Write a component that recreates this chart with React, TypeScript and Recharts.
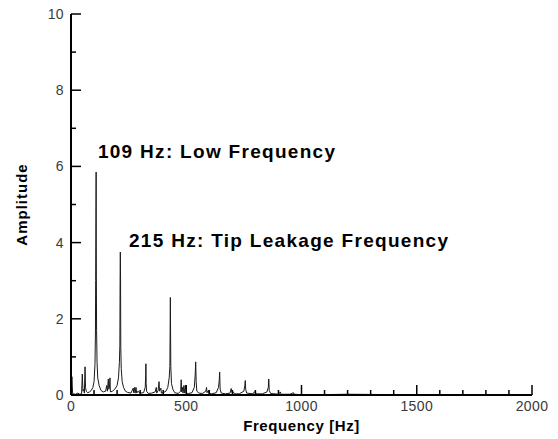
import { LineChart, Line, XAxis, YAxis, ReferenceDot } from 'recharts';

// spectrum, frequency [Hz] -> amplitude
const freqs = [
  0, 4, 7, 20, 30, 38, 46, 49, 52, 56, 58, 61, 63, 66, 72, 80, 88, 95, 100, 104,
  106, 107, 108, 109, 110, 111, 113, 116, 122, 130, 140, 150, 155, 158, 162, 164, 167, 169, 171, 180,
  190, 200, 206, 210, 212, 213, 214, 215, 216, 218, 222, 228, 236, 245, 260, 270, 272, 276, 278, 282,
  285, 290, 300, 315, 322, 324, 325, 326, 328, 335, 350, 365, 370, 372, 378, 382, 384, 390, 392, 400,
  412, 420, 426, 429, 431, 433, 436, 442, 450, 465, 476, 478, 480, 484, 486, 490, 492, 497, 499, 510,
  525, 535, 539, 541, 543, 546, 555, 570, 585, 588, 590, 596, 598, 610, 630, 640, 643, 645, 647, 652,
  670, 690, 695, 697, 700, 705, 708, 730, 750, 754, 756, 758, 762, 790, 795, 800, 802, 830, 850, 856,
  858, 860, 866, 900, 908, 912, 950, 965, 968, 1000, 1100, 1200, 1400, 1700, 2000,
];
const amps = [
  0.05, 0.48, 0.03, 0.02, 0.05, 0.02, 0.03, 0.55, 0.1, 0.15, 0.05, 0.74, 0.2, 0.1, 0.06, 0.08, 0.12, 0.2, 0.35, 0.8,
  1.6, 3.0, 4.55, 5.85, 3.1, 1.7, 0.85, 0.45, 0.25, 0.12, 0.08, 0.1, 0.25, 0.1, 0.42, 0.15, 0.2, 0.45, 0.08, 0.1,
  0.15, 0.25, 0.45, 0.85, 1.3, 3.0, 3.75, 3.05, 1.25, 0.7, 0.35, 0.2, 0.1, 0.07, 0.05, 0.18, 0.06, 0.2, 0.05, 0.2,
  0.05, 0.1, 0.05, 0.06, 0.2, 0.5, 0.82, 0.3, 0.1, 0.04, 0.05, 0.08, 0.2, 0.05, 0.12, 0.35, 0.1, 0.18, 0.05, 0.06,
  0.1, 0.2, 0.45, 0.75, 2.56, 0.75, 0.3, 0.15, 0.06, 0.04, 0.1, 0.4, 0.08, 0.2, 0.05, 0.25, 0.05, 0.25, 0.05, 0.04,
  0.06, 0.2, 0.55, 0.87, 0.35, 0.1, 0.05, 0.04, 0.1, 0.2, 0.06, 0.12, 0.04, 0.03, 0.06, 0.2, 0.38, 0.6, 0.15, 0.05,
  0.03, 0.05, 0.17, 0.1, 0.06, 0.08, 0.03, 0.03, 0.1, 0.25, 0.38, 0.15, 0.05, 0.03, 0.08, 0.09, 0.03, 0.03, 0.08, 0.2,
  0.42, 0.12, 0.04, 0.02, 0.08, 0.02, 0.02, 0.06, 0.02, 0.01, 0.01, 0.02, 0.01, 0.01, 0.01,
];

const xTicks = [0, 100, 200, 300, 400, 500, 600, 700, 800, 900, 1000, 1100, 1200, 1300, 1400, 1500, 1600, 1700, 1800, 1900, 2000];
const xLabeled = [0, 500, 1000, 1500, 2000];
const yTicks = [0, 1, 2, 3, 4, 5, 6, 7, 8, 9, 10];
const yLabeled = [0, 2, 4, 6, 8, 10];

const data = freqs.map((f, i) => ({ f, a: amps[i] }));

const FONT = '"Liberation Sans", Arial, sans-serif';
const FRAME = { stroke: '#000', strokeWidth: 2 };

const XTick = (props: any) => {
  const { x, y, payload } = props;
  const major = xLabeled.includes(payload.value);
  return (
    <g>
      <line x1={x} y1={y} x2={x} y2={y - (major ? 10 : 5)} stroke='#000' strokeWidth={1.5} />
      {major && (
        <text x={x} y={y + 16} textAnchor='middle' fontSize={14} fill='#3a3a3a' fontFamily={FONT} letterSpacing={0.4}>
          {payload.value}
        </text>
      )}
    </g>
  );
};

const YTick = (props: any) => {
  const { x, y, payload } = props;
  const major = yLabeled.includes(payload.value);
  return (
    <g>
      <line x1={x} y1={y} x2={x + (major ? 10 : 5)} y2={y} stroke='#000' strokeWidth={1.5} />
      {major && (
        <text x={x - 7} y={y + 5} textAnchor='end' fontSize={14} fill='#3a3a3a' fontFamily={FONT} letterSpacing={0.4}>
          {payload.value}
        </text>
      )}
    </g>
  );
};

const note = (txt: string) => (props: any) => {
  const vb = props.viewBox;
  return (
    <text x={vb.x} y={vb.y} fontSize={19} fontWeight='bold' fill='#000' fontFamily={FONT} letterSpacing={1.3}>
      {txt}
    </text>
  );
};

export default function App() {
  return (
    <div style={{ position: 'absolute', left: 0, top: 0 }}>
      <LineChart width={558} height={439} data={data} margin={{ top: 14, right: 26, left: 0, bottom: 0 }}>
        <XAxis
          dataKey='f'
          type='number'
          domain={[0, 2000]}
          ticks={xTicks}
          interval={0}
          height={44}
          tickSize={0}
          tickMargin={0}
          tickLine={false}
          tick={<XTick />}
          axisLine={FRAME}
          label={{
            content: (p: any) => (
              <text
                x={p.viewBox.x + p.viewBox.width / 2}
                y={p.viewBox.y + 36}
                textAnchor='middle'
                fontSize={15}
                fontWeight='bold'
                fill='#000'
                fontFamily={FONT}
                letterSpacing={0.6}
              >
                Frequency [Hz]
              </text>
            ),
          }}
        />
        {/* top and right edges of the frame */}
        <XAxis
          xAxisId='top'
          orientation='top'
          type='number'
          domain={[0, 2000]}
          height={0}
          tick={false}
          tickLine={false}
          axisLine={FRAME}
        />
        <YAxis
          type='number'
          domain={[0, 10]}
          ticks={yTicks}
          interval={0}
          width={71}
          tickSize={0}
          tickMargin={0}
          tickLine={false}
          tick={<YTick />}
          axisLine={FRAME}
          label={{
            content: (p: any) => {
              const cy = p.viewBox.y + p.viewBox.height / 2;
              return (
                <text
                  x={27}
                  y={cy}
                  transform={`rotate(-90, 27, ${cy})`}
                  textAnchor='middle'
                  fontSize={15}
                  fontWeight='bold'
                  fill='#000'
                  fontFamily={FONT}
                  letterSpacing={1}
                >
                  Amplitude
                </text>
              );
            },
          }}
        />
        <YAxis
          yAxisId='right'
          orientation='right'
          type='number'
          domain={[0, 10]}
          width={0}
          tick={false}
          tickLine={false}
          axisLine={FRAME}
        />
        <Line
          type='linear'
          dataKey='a'
          stroke='#1a1a1a'
          strokeWidth={1}
          dot={false}
          isAnimationActive={false}
        />
        <ReferenceDot x={121} y={6.2} r={1} fill='none' stroke='none' label={{ content: note('109 Hz: Low Frequency') }} />
        <ReferenceDot x={256} y={3.87} r={1} fill='none' stroke='none' label={{ content: note('215 Hz: Tip Leakage Frequency') }} />
      </LineChart>
    </div>
  );
}
